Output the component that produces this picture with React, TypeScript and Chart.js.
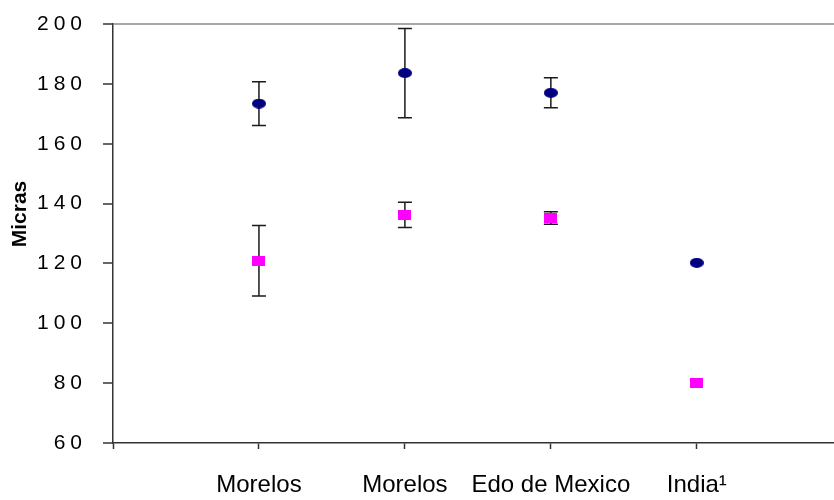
import React, { useEffect, useRef } from 'react';
import { Chart, registerables } from 'chart.js';

Chart.register(...registerables);

// ---- data ----
const categoryLabels = ['', 'Morelos', 'Morelos', 'Edo de Mexico', 'India¹'];
const categoryTickPositions = [0, 1, 2, 3, 4];
const sampleX = [1, 2, 3, 4];
const blueMeans = [173.4, 183.6, 177.0, 120.2];
const blueErrors = [7.3, 14.9, 5.0, 0];
const magentaMeans = [120.9, 136.2, 135.2, 80.0];
const magentaErrors = [11.8, 4.2, 2.1, 0];
const yMin = 60;
const yMax = 200;
const yStep = 20;
const yTitle = 'Micras';

const FONT = '"Liberation Sans", Arial, sans-serif';

function makeMarker(kind: 'ellipse' | 'rect', color: string): HTMLCanvasElement {
  const c = document.createElement('canvas');
  c.width = kind === 'ellipse' ? 14 : 13;
  c.height = 10;
  const g = c.getContext('2d')!;
  g.fillStyle = color;
  if (kind === 'ellipse') {
    g.beginPath();
    g.ellipse(7, 5, 7, 5, 0, 0, Math.PI * 2);
    g.fill();
  } else {
    g.fillRect(0, 0, 13, 10);
  }
  return c;
}

const errorBarPlugin = {
  id: 'errorBars',
  beforeDatasetsDraw(chart: any) {
    const { ctx, scales } = chart;
    const xs = scales.x;
    const ys = scales.y;
    const sets = [
      { means: blueMeans, errs: blueErrors },
      { means: magentaMeans, errs: magentaErrors },
    ];
    ctx.save();
    ctx.strokeStyle = '#1a1a1a';
    ctx.lineWidth = 1.5;
    sets.forEach(({ means, errs }) => {
      means.forEach((m, i) => {
        const e = errs[i];
        if (!e) return;
        const px = xs.getPixelForValue(sampleX[i]);
        const top = ys.getPixelForValue(m + e);
        const bot = ys.getPixelForValue(m - e);
        ctx.beginPath();
        ctx.moveTo(px, top);
        ctx.lineTo(px, bot);
        ctx.moveTo(px - 7, top);
        ctx.lineTo(px + 7, top);
        ctx.moveTo(px - 7, bot);
        ctx.lineTo(px + 7, bot);
        ctx.stroke();
      });
    });
    ctx.restore();
  },
};

const ySpacingPlugin = {
  id: 'ySpacing',
  beforeDraw(chart: any) {
    const s: any = chart.scales.y;
    if (s && !s.__patched) {
      const orig = s.drawLabels.bind(s);
      s.drawLabels = (area: any) => {
        const c: any = chart.ctx;
        const prev = c.letterSpacing;
        c.letterSpacing = '5px';
        orig(area);
        c.letterSpacing = prev || '0px';
      };
      s.__patched = true;
    }
  },
};

const yTitlePlugin = {
  id: 'yTitleCustom',
  afterDraw(chart: any) {
    const ctx = chart.ctx;
    ctx.save();
    ctx.translate(20, 214);
    ctx.rotate(-Math.PI / 2);
    ctx.font = `bold 21px ${FONT}`;
    ctx.fillStyle = '#000';
    ctx.textAlign = 'center';
    ctx.textBaseline = 'middle';
    ctx.fillText(yTitle, 0, 0);
    ctx.restore();
  },
};

export default function App() {
  const ref = useRef<HTMLCanvasElement>(null);
  useEffect(() => {
    if (!ref.current) return;
    const blueMarker = makeMarker('ellipse', '#000080');
    const magentaMarker = makeMarker('rect', '#ff00ff');
    const chart = new Chart(ref.current, {
      type: 'scatter',
      data: {
        datasets: [
          {
            label: 'A',
            data: sampleX.map((x, i) => ({ x, y: blueMeans[i] })),
            pointStyle: blueMarker as any,
            pointRadius: 7,
          },
          {
            label: 'B',
            data: sampleX.map((x, i) => ({ x, y: magentaMeans[i] })),
            pointStyle: magentaMarker as any,
            pointRadius: 7,
          },
        ],
      },
      options: {
        animation: false,
        responsive: false,
        events: [],
        layout: { autoPadding: false, padding: { top: 24, left: 0, right: 0, bottom: 0 } },
        plugins: {
          legend: { display: false },
          tooltip: { enabled: false },
        },
        scales: {
          x: {
            type: 'linear',
            min: 0,
            max: 4.94,
            afterBuildTicks: (scale: any) => {
              scale.ticks = categoryTickPositions.map((v) => ({ value: v }));
            },
            afterFit: (scale: any) => {
              scale.height = 57;
              scale.paddingLeft = 0;
              scale.paddingRight = 0;
            },
            border: { display: true, color: '#333', width: 1.5 },
            grid: {
              display: true,
              drawOnChartArea: false,
              drawTicks: true,
              tickLength: 6,
              tickColor: '#333',
              tickWidth: 1.5,
              color: 'transparent',
            },
            ticks: {
              autoSkip: false,
              maxRotation: 0,
              minRotation: 0,
              padding: 22,
              color: '#000',
              font: { family: FONT, size: 24 },
              callback: (_v: any, i: number) => categoryLabels[i],
            },
          },
          y: {
            type: 'linear',
            min: yMin,
            max: yMax,
            afterFit: (scale: any) => {
              scale.width = 113;
              scale.paddingTop = 0;
              scale.paddingBottom = 0;
            },
            border: { display: true, color: '#333', width: 1.5 },
            grid: {
              display: true,
              drawTicks: true,
              tickLength: 10,
              tickColor: '#333',
              tickWidth: 1.5,
              lineWidth: 2,
              color: (c: any) => (c.tick && c.tick.value === yMax ? '#a8a8a8' : 'transparent'),
            },
            ticks: {
              stepSize: yStep,
              padding: 16,
              color: '#000',
              font: { family: FONT, size: 21, lineHeight: 1 },
            },
          },
        },
      },
      plugins: [errorBarPlugin, ySpacingPlugin, yTitlePlugin],
    });
    return () => chart.destroy();
  }, []);
  return (
    <div style={{ position: 'fixed', left: 0, top: 0, width: 834, height: 500, background: '#fff' }}>
      <canvas ref={ref} width={834} height={500} style={{ display: 'block' }} />
    </div>
  );
}
